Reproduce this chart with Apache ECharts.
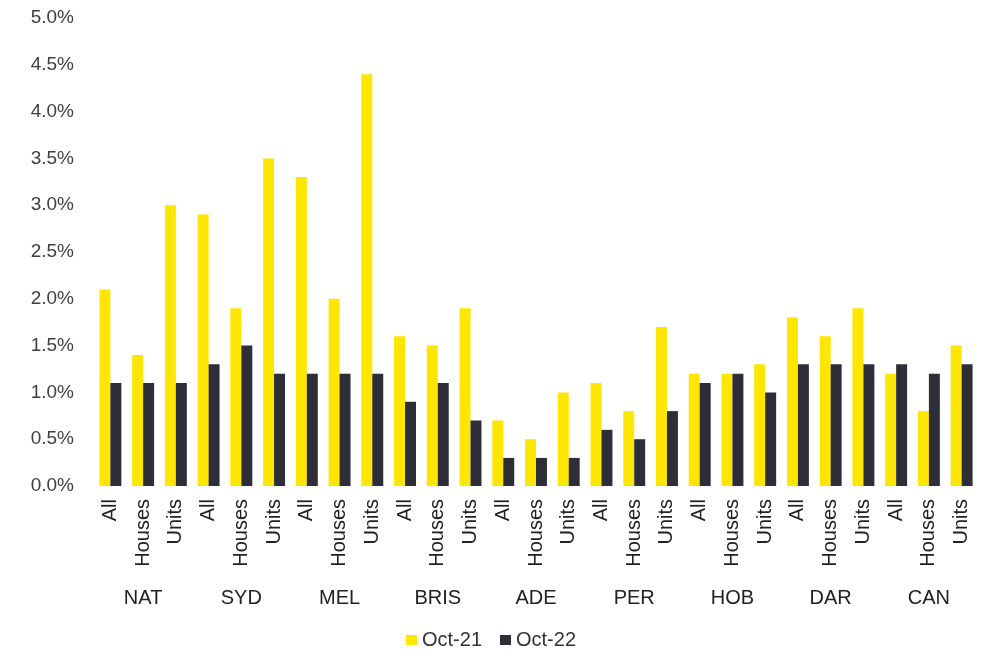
<!DOCTYPE html>
<html>
<head>
<meta charset="utf-8">
<script src="https://cdn.jsdelivr.net/npm/echarts@6/dist/echarts.min.js"></script>
<style>html,body{margin:0;padding:0;background:#fff}#chart{width:982px;height:655px}</style>
</head>
<body>
<div id="chart"></div>
<script>
var groups = ['NAT','SYD','MEL','BRIS','ADE','PER','HOB','DAR','CAN'];
var types = ['All','Houses','Units'];
// values in %, order: group x type
var oct21 = [2.1,1.4,3.0, 2.9,1.9,3.5, 3.3,2.0,4.4, 1.6,1.5,1.9, 0.7,0.5,1.0, 1.1,0.8,1.7, 1.2,1.2,1.3, 1.8,1.6,1.9, 1.2,0.8,1.5];
var oct22 = [1.1,1.1,1.1, 1.3,1.5,1.2, 1.2,1.2,1.2, 0.9,1.1,0.7, 0.3,0.3,0.3, 0.6,0.5,0.8, 1.1,1.2,1.0, 1.3,1.3,1.3, 1.3,1.2,1.3];

var cats = [];
groups.forEach(function(g){ types.forEach(function(t){ cats.push(t); }); });

var chart = echarts.init(document.getElementById('chart'));
var font = 'Liberation Sans, Arial, sans-serif';
chart.setOption({
    backgroundColor:'#fff',
    animation:false,
    grid:{left:94,right:4,top:18,bottom:169},
    legend:{
        bottom:0, left:'center',
        icon:'rect', itemWidth:11, itemHeight:10, itemGap:18,
        textStyle:{fontFamily:font,fontSize:20,color:'#333'},
        data:['Oct-21','Oct-22']
    },
    xAxis:[
        {
            type:'category', data:cats,
            axisLine:{show:false}, axisTick:{show:false},
            axisLabel:{rotate:90, interval:0, margin:13, fontFamily:font, fontSize:20, color:'#222'}
        },
        {
            type:'category', data:groups, position:'bottom', offset:94,
            axisLine:{show:false}, axisTick:{show:false},
            axisLabel:{interval:0, fontFamily:font, fontSize:20, color:'#222'}
        }
    ],
    yAxis:{
        type:'value', min:0, max:5, interval:0.5,
        axisLine:{show:false}, axisTick:{show:false}, splitLine:{show:false},
        axisLabel:{margin:20, fontFamily:font, fontSize:19, color:'#404040',
            formatter:function(v){return v.toFixed(1)+'%';}}
    },
    series:[
        {name:'Oct-21', type:'bar', data:oct21, barGap:0, barCategoryGap:'33%',
         itemStyle:{color:'#FFE600'}},
        {name:'Oct-22', type:'bar', data:oct22, barGap:0, barCategoryGap:'33%',
         itemStyle:{color:'#2E2E38'}}
    ]
});
</script>
</body>
</html>
